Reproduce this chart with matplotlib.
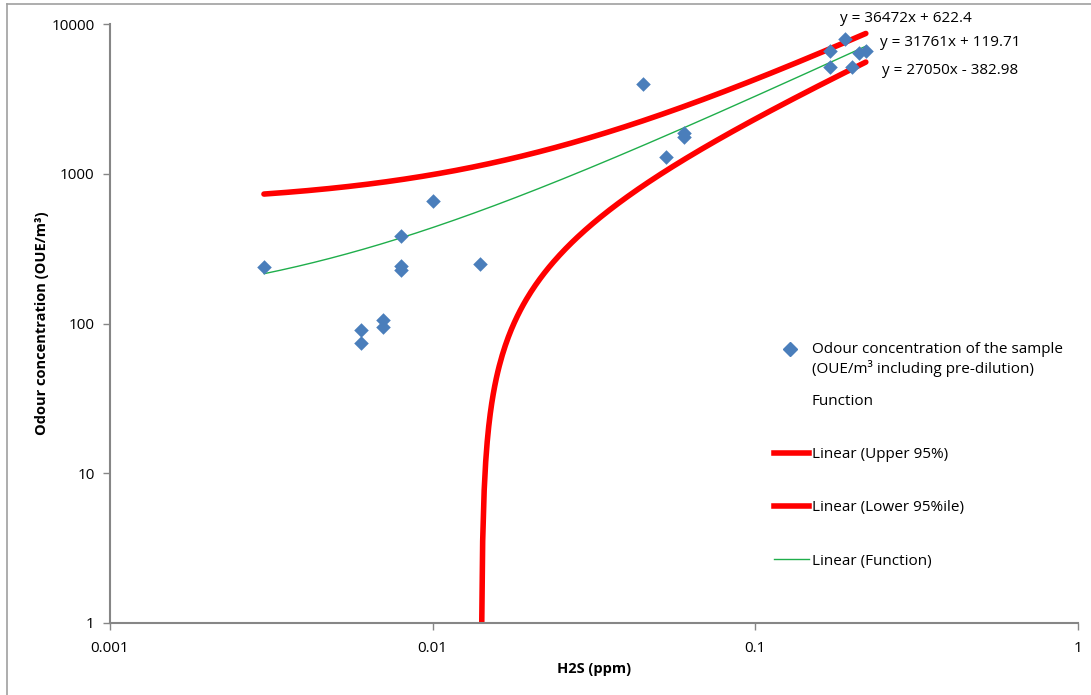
import matplotlib
matplotlib.use("Agg")
import matplotlib.pyplot as plt
from matplotlib.lines import Line2D
import numpy as np

plt.rcParams['font.family'] = ['Open Sans', 'DejaVu Sans']

# measured samples
h2s = [0.003, 0.006, 0.006, 0.007, 0.007, 0.008, 0.008, 0.008, 0.01, 0.014,
       0.045, 0.053, 0.06, 0.06, 0.17, 0.17, 0.19, 0.2, 0.21, 0.22]
odour = [240, 90, 74, 105, 95, 384, 242, 228, 658, 250,
         4000, 1300, 1870, 1760, 6600, 5200, 8000, 5200, 6400, 6600]

# trendlines (slope, intercept) as printed on the chart
trend_names = ["Linear (Upper 95%)", "Linear (Lower 95%ile)", "Linear (Function)"]
slopes = [36472, 27050, 31761]
intercepts = [622.4, -382.98, 119.71]
eq_labels = ["y = 36472x + 622.4", "y = 27050x - 382.98", "y = 31761x + 119.71"]
x_start = 0.003
x_end = 0.22

fig = plt.figure(figsize=(10.91, 6.95), dpi=100)
ax = fig.add_axes([110/1091, 1-623/695, (1078-110)/1091, (623-24)/695])

xx = np.logspace(np.log10(x_start), np.log10(x_end), 400)
trend_cols = ['#ff0000', '#ff0000', '#1fae4b']
trend_lw = [4, 4, 1]
for m, b, c, lw in zip(slopes, intercepts, trend_cols, trend_lw):
    yy = m * xx + b
    ok = yy >= 1
    if b < 0:
        # extend down to the axis floor
        x0 = (1 - b) / m
        xs = np.concatenate([[x0], xx[ok]])
        ys = m * xs + b
    else:
        xs, ys = xx[ok], yy[ok]
    ax.plot(xs, ys, color=c, lw=lw, solid_capstyle='round', zorder=2)

ax.scatter(h2s, odour, marker='D', s=55, color='#4a7ebb', zorder=3, linewidths=0)

ax.set_xscale('log')
ax.set_yscale('log')
ax.set_xlim(0.001, 1)
ax.set_ylim(1, 10000)
ax.set_xticks([0.001, 0.01, 0.1, 1])
ax.set_xticklabels(['0.001', '0.01', '0.1', '1'])
ax.set_yticks([1, 10, 100, 1000, 10000])
ax.set_yticklabels(['1', '10', '100', '1000', '10000'])
ax.minorticks_off()
for s in ['top', 'right']:
    ax.spines[s].set_visible(False)
for s in ['left', 'bottom']:
    ax.spines[s].set_color('#868686')
    ax.spines[s].set_linewidth(1.5)
ax.tick_params(axis='both', colors='#868686', labelcolor='black', labelsize=11,
               length=5, width=1)
ax.tick_params(axis='x', pad=8)
ax.tick_params(axis='y', pad=6)

ax.set_xlabel('H2S (ppm)', fontsize=10.5, fontweight='bold', labelpad=4)
ax.set_ylabel('Odour concentration (OUE/m³)', fontsize=10.5, fontweight='bold', labelpad=2)

# equation labels
fig.text(840/1091, 1-18/695, eq_labels[0], fontsize=11, va='center')
fig.text(880/1091, 1-42/695, eq_labels[2], fontsize=11, va='center')
fig.text(882/1091, 1-70/695, eq_labels[1], fontsize=11, va='center')

# legend, in two blocks (the spacing is not even in the original)
h_top = [Line2D([], [], ls='none'), Line2D([], [], ls='none')]
l_top = ["Odour concentration of the sample\n(OUE/m³ including pre-dilution)", "Function"]
leg1 = fig.legend(h_top, l_top, loc='upper left', bbox_to_anchor=(768/1091, 1-336/695),
                  frameon=False, fontsize=11, labelspacing=1.1, handlelength=2.3,
                  handletextpad=0.15, borderaxespad=0)
# marker key sits level with the first line of its label
fig.add_artist(Line2D([790/1091], [1-349/695], marker='D', ls='none', color='#4a7ebb',
                      markersize=7, transform=fig.transFigure))
h_bot = [Line2D([], [], color=c, lw=lw) for c, lw in zip(trend_cols, trend_lw)]
leg2 = fig.legend(h_bot, trend_names, loc='upper left', bbox_to_anchor=(768/1091, 1-441/695),
                  frameon=False, fontsize=11, labelspacing=2.5, handlelength=2.3,
                  handletextpad=0.15, borderaxespad=0)

# chart area border (top and left visible)
fig.add_artist(Line2D([7/1091, 7/1091], [0, 1-4/695], color='#a0a0a0', lw=1.2,
                      transform=fig.transFigure))
fig.add_artist(Line2D([7/1091, 1], [1-4/695, 1-4/695], color='#a0a0a0', lw=1.2,
                      transform=fig.transFigure))

fig.savefig('out.png', dpi=100)
